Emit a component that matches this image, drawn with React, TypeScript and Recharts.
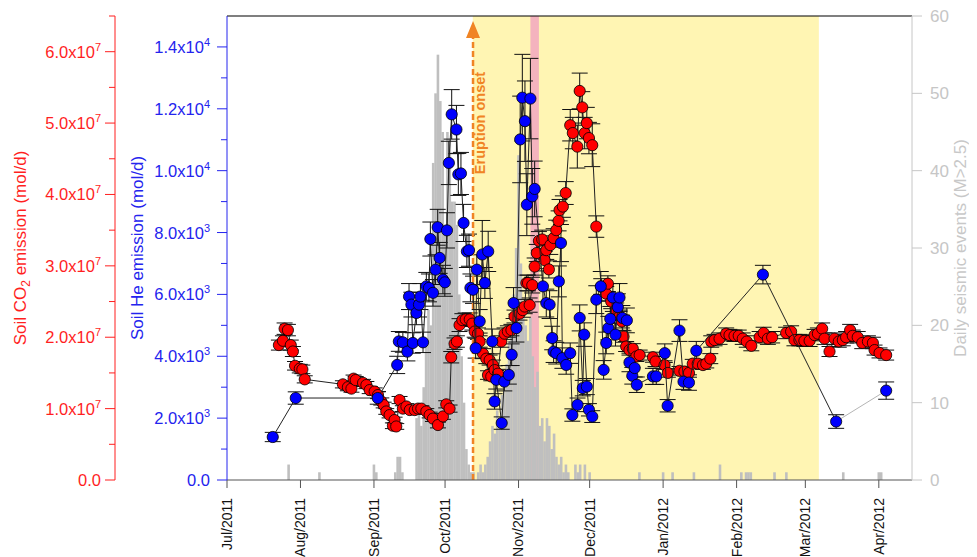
import React from 'react'
import { ComposedChart, Bar, Scatter, XAxis, YAxis, ErrorBar, ReferenceArea, ReferenceLine } from 'recharts'

const FONT = '"Liberation Sans", Arial, Helvetica, sans-serif'
const RED = '#ff1f1f'
const BLUE = '#2424ee'
const GREY = '#c6c6c6'

// x values are days counted from 1 Jul 2011
const monthTicks = [0, 31, 62, 92, 123, 153, 184, 215, 244, 275]
const monthLabels = ['Jul/2011', 'Aug/2011', 'Sep/2011', 'Oct/2011', 'Nov/2011', 'Dec/2011', 'Jan/2012', 'Feb/2012', 'Mar/2012', 'Apr/2012']
const heTicks = [0, 1000, 2000, 3000, 4000, 5000, 6000, 7000, 8000, 9000, 10000, 11000, 12000, 13000, 14000]
const co2Ticks = [0, 0.5e7, 1e7, 1.5e7, 2e7, 2.5e7, 3e7, 3.5e7, 4e7, 4.5e7, 5e7, 5.5e7, 6e7, 6.5e7]
const quakeTicks = [0, 10, 20, 30, 40, 50, 60]

const eruptionDay = 103.8
const eruptionPeriod = [103.7, 249.7]
const pinkPeriod = [128.0, 131.6]

const quakeDays = [26, 39, 62, 63, 71, 72, 73, 74, 80, 81, 82, 83, 84, 85, 86, 87, 88, 89, 90, 91, 92, 93, 94, 95, 96, 97, 98, 99, 100, 101, 102, 103, 104, 106, 107, 108, 109, 110, 111, 112, 113, 114, 115, 116, 117, 118, 119, 120, 121, 122, 123, 124, 125, 126, 127, 128, 129, 130, 131, 132, 133, 134, 135, 136, 137, 138, 139, 140, 141, 142, 143, 144, 147, 148, 149, 151, 153, 174, 184, 188, 197, 208, 217, 219, 220, 221, 231, 236, 260, 275, 276]
const quakeCounts = [2, 1, 2, 1, 1, 3, 3, 1, 8, 9, 7, 12, 18, 22, 20, 41, 50, 55, 49, 45, 33, 45, 44, 36, 36, 33, 24, 16, 10, 4, 2, 1, 1, 1, 2, 1, 2, 3, 5, 7, 6, 9, 8, 11, 13, 15, 18, 20, 24, 30, 42, 28, 22, 20, 18, 21, 16, 12, 14, 7, 8, 5, 8, 7, 4, 6, 3, 2, 3, 1, 2, 1, 2, 1, 2, 2, 1, 1, 1, 1, 1, 2, 1, 1, 1, 1, 1, 1, 1, 1, 1]

// [day, soil He emission (mol/d), error]
const hePoints: [number, number, number][] = [
  [19.3, 1390, 150], [29.0, 2650, 200], [63.6, 2650, 200], [71.8, 3720, 280], [72.5, 4480, 320],
  [74.2, 4450, 320], [76.1, 4150, 300], [76.8, 5930, 420], [77.8, 5670, 400], [78.4, 4430, 330],
  [79.9, 5400, 380], [81.0, 5670, 400], [81.6, 5930, 420], [82.7, 4450, 330], [84.1, 6260, 450],
  [85.2, 6210, 450], [85.8, 7790, 550], [86.9, 6050, 430], [88.0, 6800, 480], [88.9, 8170, 580],
  [89.7, 7180, 500], [91.1, 6480, 460], [91.9, 6390, 450], [92.8, 8070, 570], [93.6, 10250, 700],
  [94.8, 11820, 800], [96.8, 11330, 780], [97.6, 9880, 680], [98.7, 9910, 680], [99.8, 8310, 600],
  [101.2, 7390, 520], [102.1, 7430, 520], [102.7, 6210, 450], [103.8, 6150, 440], [104.9, 4260, 320],
  [105.4, 6800, 480], [106.6, 5130, 380], [107.7, 7290, 1100], [108.8, 6370, 500], [110.2, 7390, 650],
  [111.9, 4480, 400], [112.9, 2540, 250], [113.6, 3240, 300], [115.9, 1840, 200], [117.0, 3180, 300],
  [118.9, 3400, 300], [120.1, 4050, 350], [120.9, 5720, 500], [122.1, 4910, 450], [123.7, 11010, 1400],
  [124.6, 12360, 1400], [125.7, 11600, 1300], [126.5, 8900, 1000], [128.0, 12330, 1300], [128.8, 9170, 900],
  [129.8, 9410, 900], [133.3, 6260, 500], [134.7, 5720, 450], [136.1, 5670, 450], [137.2, 4590, 380],
  [137.8, 4150, 350], [138.9, 4100, 350], [140.0, 6420, 500], [140.9, 7660, 600], [141.5, 3940, 330],
  [143.1, 3720, 300], [144.8, 4100, 330], [145.7, 2100, 200], [147.9, 2430, 220], [148.8, 5240, 420],
  [150.1, 2970, 250], [150.7, 4700, 380], [151.8, 3020, 260], [152.7, 2270, 200], [154.1, 2050, 190],
  [155.8, 5830, 450], [157.7, 6260, 480], [158.9, 3560, 300], [160.0, 4430, 350], [160.9, 4910, 380],
  [161.7, 5210, 400], [162.8, 5900, 450], [163.9, 4700, 370], [164.9, 5590, 430], [165.6, 5900, 450],
  [166.8, 5240, 400], [168.7, 5160, 400], [169.8, 3800, 300], [171.0, 3370, 270], [172.0, 3620, 290],
  [172.9, 3080, 250], [179.7, 3350, 260], [181.1, 3350, 260], [184.7, 4100, 300], [185.9, 2400, 200],
  [190.9, 4830, 350], [192.6, 3180, 250], [194.9, 3150, 250], [198.0, 4180, 300], [226.1, 6640, 300],
  [257.0, 1890, 220], [278.1, 2890, 280],
]

// [day, soil CO2 emission (x10^7 mol/d), error]
const co2Points: [number, number, number][] = [
  [21.9, 1.89, 0.07], [23.6, 1.95, 0.07], [24.3, 2.12, 0.08], [25.7, 2.10, 0.08], [26.9, 1.89, 0.07],
  [27.8, 1.80, 0.07], [28.7, 1.60, 0.06], [30.7, 1.56, 0.06], [31.8, 1.55, 0.06], [32.8, 1.41, 0.05],
  [48.9, 1.34, 0.05], [51.0, 1.30, 0.05], [52.5, 1.28, 0.05], [53.4, 1.42, 0.05], [54.3, 1.40, 0.05],
  [57.4, 1.36, 0.05], [58.8, 1.33, 0.05], [60.2, 1.26, 0.05], [62.3, 1.24, 0.05], [63.7, 1.19, 0.05],
  [65.1, 1.10, 0.05], [66.1, 1.05, 0.04], [67.2, 0.96, 0.04], [68.6, 0.91, 0.04], [70.0, 0.76, 0.04],
  [70.7, 0.84, 0.04], [71.4, 0.75, 0.04], [72.8, 1.12, 0.05], [74.2, 1.00, 0.04], [75.7, 1.03, 0.04],
  [77.1, 0.98, 0.04], [79.2, 0.98, 0.04], [80.6, 1.00, 0.04], [82.0, 1.00, 0.04], [84.1, 0.96, 0.04],
  [85.5, 0.91, 0.04], [86.9, 0.86, 0.04], [89.0, 0.77, 0.04], [91.1, 0.89, 0.04], [92.5, 1.06, 0.05],
  [93.9, 1.00, 0.05], [94.6, 1.72, 0.08], [96.0, 1.91, 0.08], [97.0, 1.94, 0.08], [98.1, 2.17, 0.09],
  [99.3, 2.24, 0.09], [100.7, 2.25, 0.09], [102.4, 2.25, 0.09], [103.5, 2.19, 0.09], [104.5, 2.08, 0.08],
  [105.9, 2.05, 0.08], [106.6, 1.94, 0.08], [108.0, 1.77, 0.07], [109.4, 1.70, 0.07], [110.1, 1.47, 0.06],
  [110.8, 1.68, 0.07], [111.5, 1.45, 0.06], [112.2, 1.61, 0.07], [112.9, 1.54, 0.06], [114.3, 1.49, 0.06],
  [115.7, 1.94, 0.08], [117.1, 2.05, 0.08], [118.5, 2.08, 0.08], [120.0, 2.10, 0.08], [121.3, 2.29, 0.09],
  [123.4, 2.33, 0.09], [124.8, 2.38, 0.1], [125.6, 2.43, 0.1], [126.3, 2.76, 0.11], [127.0, 2.76, 0.11],
  [127.7, 2.45, 0.1], [128.8, 2.73, 0.11], [129.8, 2.99, 0.12], [130.7, 3.18, 0.12], [131.6, 3.35, 0.13],
  [133.0, 3.37, 0.13], [134.0, 3.08, 0.12], [134.7, 3.22, 0.13], [135.8, 2.95, 0.12], [136.4, 3.29, 0.13],
  [137.8, 3.39, 0.13], [138.9, 3.50, 0.14], [139.9, 3.63, 0.14], [140.3, 3.78, 0.15], [141.7, 3.83, 0.15],
  [142.9, 4.02, 0.16], [144.8, 4.97, 0.22], [145.9, 4.86, 0.22], [147.8, 4.67, 0.3], [148.8, 5.45, 0.25],
  [149.9, 5.22, 0.22], [150.9, 4.86, 0.22], [151.8, 5.00, 0.22], [152.7, 4.79, 0.22], [154.1, 4.69, 0.3],
  [155.8, 3.55, 0.15], [157.9, 2.71, 0.11], [160.0, 2.61, 0.1], [160.7, 2.75, 0.11], [162.1, 2.50, 0.1],
  [164.2, 2.38, 0.1], [165.6, 2.29, 0.09], [166.6, 2.22, 0.09], [167.3, 2.01, 0.08], [168.4, 1.87, 0.07],
  [169.8, 1.82, 0.07], [171.2, 1.84, 0.07], [172.7, 1.73, 0.07], [174.1, 1.75, 0.07], [179.7, 1.72, 0.07],
  [180.8, 1.66, 0.07], [184.6, 1.61, 0.06], [186.0, 1.50, 0.06], [190.9, 1.53, 0.06], [193.0, 1.52, 0.06],
  [194.9, 1.50, 0.06], [196.5, 1.63, 0.06], [198.6, 1.63, 0.06], [200.8, 1.61, 0.06], [202.2, 1.63, 0.06],
  [203.9, 1.70, 0.07], [204.3, 1.94, 0.08], [205.7, 1.96, 0.08], [207.8, 1.98, 0.08], [210.6, 2.05, 0.08],
  [212.0, 2.03, 0.08], [214.1, 2.02, 0.08], [215.9, 2.02, 0.08], [217.6, 1.98, 0.08], [219.3, 1.94, 0.08],
  [221.2, 1.88, 0.07], [224.7, 2.00, 0.08], [226.4, 2.06, 0.08], [228.2, 1.98, 0.08], [230.0, 2.00, 0.08],
  [235.9, 2.06, 0.08], [238.0, 2.08, 0.08], [239.4, 1.96, 0.08], [241.5, 1.96, 0.08], [243.6, 1.95, 0.08],
  [245.8, 1.95, 0.08], [247.9, 2.03, 0.08], [249.3, 2.05, 0.08], [251.1, 2.12, 0.08], [252.1, 1.98, 0.08],
  [254.2, 1.80, 0.07], [256.3, 1.98, 0.08], [258.1, 1.94, 0.08], [259.8, 1.96, 0.08], [261.2, 2.00, 0.08],
  [262.9, 2.10, 0.08], [264.0, 2.02, 0.08], [266.1, 2.00, 0.08], [268.0, 1.92, 0.08], [270.4, 1.94, 0.08],
  [272.5, 1.92, 0.08], [273.2, 1.82, 0.07], [275.3, 1.78, 0.07], [278.1, 1.75, 0.07],
]

const quakeData = quakeDays.map((day, i) => ({ day, n: quakeCounts[i] }))
const heData = hePoints.map(([day, v, err]) => ({ day, v, err }))
const co2Data = co2Points.map(([day, v, err]) => ({ day, v: v * 1e7, err: err * 1e7 }))

const sci = (v: number) => {
  if (v === 0) return { m: '0.0', e: '' }
  const e = Math.floor(Math.log10(v) + 1e-9)
  return { m: (v / Math.pow(10, e)).toFixed(1), e: String(e) }
}

const SciLabel = ({ x, y, v, color }: any) => {
  const { m, e } = sci(v)
  return (
    <text x={x} y={y + 6} textAnchor="end" fill={color} fontSize={16.5} fontFamily={FONT}>
      <tspan>{e ? `${m}x10` : m}</tspan>
      {e && <tspan dy={-7} fontSize={11}>{e}</tspan>}
    </text>
  )
}

const HeTick = ({ x, y, payload }: any) => {
  const major = payload.value % 2000 === 0
  return (
    <g>
      <line x1={x - (major ? 10 : 6)} x2={x} y1={y} y2={y} stroke={BLUE} />
      {major && <SciLabel x={x - 17} y={y} v={payload.value} color={BLUE} />}
    </g>
  )
}

const Co2Tick = ({ x, y, payload }: any) => {
  const major = payload.value % 1e7 === 0
  return (
    <g>
      <line x1={x - (major ? 10 : 6)} x2={x} y1={y} y2={y} stroke={RED} />
      {major && <SciLabel x={x - 14} y={y} v={payload.value} color={RED} />}
    </g>
  )
}

const QuakeTick = ({ x, y, payload }: any) => (
  <g>
    <line x1={x} x2={x + 10} y1={y} y2={y} stroke={GREY} />
    <text x={x + 18} y={y + 6} fill={GREY} fontSize={17} fontFamily={FONT}>{payload.value}</text>
  </g>
)

const MonthTick = ({ x, y, payload }: any) => (
  <g>
    <line x1={x} x2={x} y1={y} y2={y + 8} stroke="#555" />
    <text transform={`translate(${x},${y + 18}) rotate(-90)`} textAnchor="end" dy="0.35em" fill="#111" fontSize={14} fontFamily={FONT}>
      {monthLabels[monthTicks.indexOf(payload.value)]}
    </text>
  </g>
)

const axisTitle = (dx: number, color: string, children: React.ReactNode) => ({ viewBox }: any) => {
  const cx = viewBox.x + dx
  const cy = viewBox.y + viewBox.height / 2
  return (
    <text transform={`translate(${cx},${cy}) rotate(-90)`} textAnchor="middle" dy="0.35em" fill={color} fontSize={17} fontFamily={FONT}>
      {children}
    </text>
  )
}

const EruptionArrow = (props: any) => {
  const { x1, y1, y2 } = props
  const top = Math.min(y1, y2)
  const bottom = Math.max(y1, y2)
  const c = '#f08424'
  return (
    <g>
      <line x1={x1} x2={x1} y1={bottom} y2={top + 20} stroke={c} strokeWidth={2.5} strokeDasharray="6 3" />
      <polygon points={`${x1 - 7},${top + 22} ${x1 + 7},${top + 22} ${x1},${top + 5}`} fill={c} />
      <text transform={`translate(${x1 + 7},${top + 107}) rotate(-90)`} textAnchor="middle" dy="0.35em" fill={c} fontSize={14.5} fontWeight="bold" fontFamily={FONT}>
        Eruption onset
      </text>
    </g>
  )
}

// one bar per day, centred on the day and a day wide
const QuakeBar = (p: any) => {
  if (!p.height) return null
  const cx = p.x + p.width / 2
  return <rect x={cx - 1.3} y={p.y} width={2.6} height={p.height} fill="#bfbfbf" />
}

// He line: the last (April) segment is drawn in light grey
const HeLine = (p: any) => {
  const pts = p.points || []
  if (pts.length < 2) return null
  const main = pts.slice(0, -1).map((q: any) => `${q.x},${q.y}`).join(' ')
  const a = pts[pts.length - 2]
  const b = pts[pts.length - 1]
  return (
    <g>
      <polyline points={main} fill="none" stroke="#222" strokeWidth={1} />
      <line x1={a.x} y1={a.y} x2={b.x} y2={b.y} stroke="#b5b5b5" strokeWidth={1} />
    </g>
  )
}

const dot = (fill: string) => (p: any) => (
  <circle cx={p.cx} cy={p.cy} r={5.6} fill={fill} stroke="#000" strokeWidth={0.8} />
)

export default function App() {
  return (
    <ComposedChart width={961} height={549} data={quakeData} margin={{ top: 8, right: 0, left: 0, bottom: 0 }}>
      <XAxis
        dataKey="day"
        type="number"
        domain={[0, 289]}
        ticks={monthTicks}
        interval={0}
        height={77}
        tickSize={0}
        tickMargin={0}
        tick={<MonthTick />}
        axisLine={{ stroke: '#555' }}
        allowDataOverflow
      />
      {/* axis ids sort so that He sits next to the plot and CO2 outside it */}
      <YAxis
        yAxisId="he"
        dataKey="v"
        domain={[0, 15000]}
        ticks={heTicks}
        interval={0}
        width={112}
        tickSize={0}
        tickMargin={0}
        tick={<HeTick />}
        axisLine={{ stroke: BLUE }}
        allowDataOverflow
        label={{
          content: axisTitle(22, BLUE, 'Soil He emission (mol/d)'),
        }}
      />
      <YAxis
        yAxisId="soilCo2"
        dataKey="v"
        domain={[0, 6.5e7]}
        ticks={co2Ticks}
        interval={0}
        width={107}
        tickSize={0}
        tickMargin={0}
        tick={<Co2Tick />}
        axisLine={{ stroke: RED }}
        allowDataOverflow
        label={{
          content: axisTitle(12, RED, (
            <>
              <tspan>Soil CO</tspan>
              <tspan dy={4} fontSize={12}>2</tspan>
              <tspan dy={-4}> emission (mol/d)</tspan>
            </>
          )),
        }}
      />
      <YAxis
        yAxisId="quake"
        orientation="right"
        dataKey="n"
        domain={[0, 60]}
        ticks={quakeTicks}
        interval={0}
        width={57}
        tickSize={0}
        tickMargin={0}
        tick={<QuakeTick />}
        axisLine={{ stroke: GREY }}
        allowDataOverflow
        label={{
          content: axisTitle(48, '#c8c8c8', 'Daily seismic events (M>2.5)'),
        }}
      />

      <ReferenceArea yAxisId="he" x1={eruptionPeriod[0]} x2={eruptionPeriod[1]} fill="#fff5b3" fillOpacity={1} strokeOpacity={0} />
      <ReferenceArea yAxisId="he" x1={pinkPeriod[0]} x2={pinkPeriod[1]} fill="#f4b3be" fillOpacity={1} strokeOpacity={0} />

      <Bar yAxisId="quake" dataKey="n" fill="#bfbfbf" barSize={2.6} shape={QuakeBar} isAnimationActive={false} />

      <Scatter yAxisId="soilCo2" data={co2Data} line={{ stroke: '#222', strokeWidth: 1 }} shape={dot('#ff0000')} isAnimationActive={false}>
        <ErrorBar dataKey="err" direction="y" width={8} stroke="#111" strokeWidth={1} />
      </Scatter>
      <Scatter yAxisId="he" data={heData} line={HeLine} shape={dot('#0000ff')} isAnimationActive={false}>
        <ErrorBar dataKey="err" direction="y" width={8} stroke="#111" strokeWidth={1} />
      </Scatter>

      <ReferenceLine yAxisId="he" y={15000} stroke="#000" strokeWidth={1.2} />
      <ReferenceLine yAxisId="he" x={eruptionDay} shape={EruptionArrow} />
    </ComposedChart>
  )
}
